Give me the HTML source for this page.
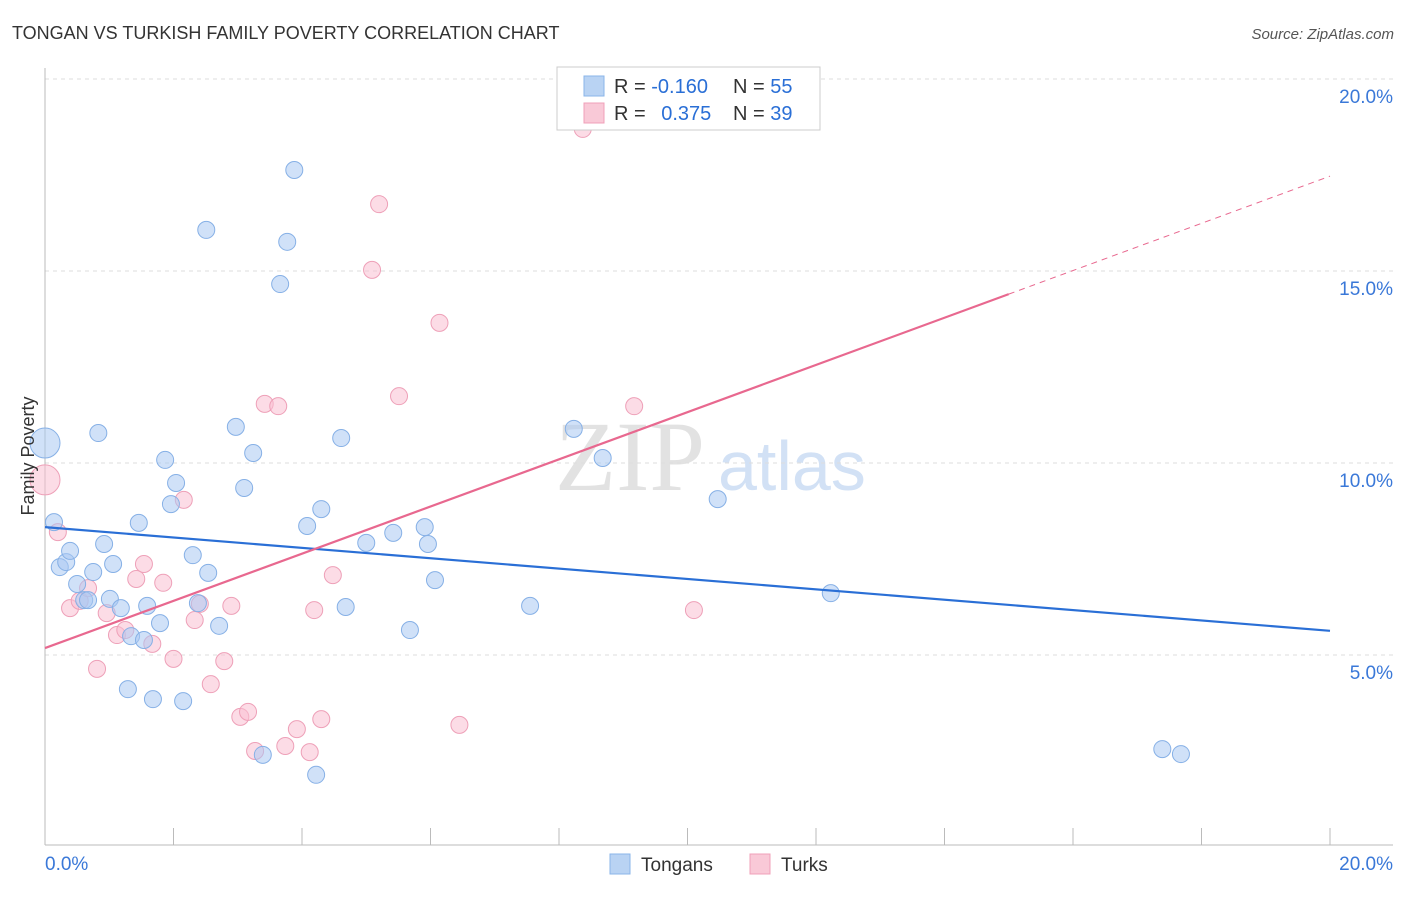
<!DOCTYPE html>
<html><head><meta charset="utf-8"><style>
body{margin:0;background:#fff;font-family:"Liberation Sans",sans-serif;}
svg text{font-family:"Liberation Sans",sans-serif;}
</style></head><body>
<svg id="chart" width="1406" height="892">
<text x="12" y="39" font-size="18" fill="#333">TONGAN VS TURKISH FAMILY POVERTY CORRELATION CHART</text>
<text x="1394" y="39" font-size="15" fill="#555" font-style="italic" text-anchor="end">Source: ZipAtlas.com</text>
<text x="555" y="490" font-size="100" fill="#e2e2e2" style="font-family:'Liberation Serif',serif">ZIP</text>
<text x="718" y="490" font-size="70" fill="#d2e1f5">atlas</text>
<g id="grid"></g>
<g id="axes"></g>
<g id="marks"></g>
<text x="34" y="456" font-size="18" fill="#333" transform="rotate(-90 34 456)" text-anchor="middle">Family Poverty</text>
<g>
<rect x="557" y="67" width="263" height="63" fill="#fff" stroke="#ccc"/>
<rect x="584" y="76" width="20" height="20" fill="#b9d3f3" stroke="#8ab4e8"/>
<rect x="584" y="103" width="20" height="20" fill="#f9c9d7" stroke="#f0a0b8"/>
<text x="614" y="93" font-size="20" fill="#333">R = <tspan fill="#2a6fd6">-0.160</tspan></text>
<text x="733" y="93" font-size="20" fill="#333">N = <tspan fill="#2a6fd6">55</tspan></text>
<text x="614" y="120" font-size="20" fill="#333">R = <tspan fill="#2a6fd6" dx="10">0.375</tspan></text>
<text x="733" y="120" font-size="20" fill="#333">N = <tspan fill="#2a6fd6">39</tspan></text>
</g>
<g>
<rect x="610" y="854" width="20" height="20" fill="#b9d3f3" stroke="#8ab4e8"/>
<text x="641" y="871" font-size="19" fill="#333">Tongans</text>
<rect x="750" y="854" width="20" height="20" fill="#f9c9d7" stroke="#f0a0b8"/>
<text x="781" y="871" font-size="19" fill="#333">Turks</text>
</g>
</svg>
<script>
const yTicks=[5,10,15,20];
const yTickLabels=["5.0%","10.0%","15.0%","20.0%"];
const xTicks=[0,2,4,6,8,10,12,14,16,18,20];
const xTickLabels=["0.0%","20.0%"];
const tonganX=[0.00,0.14,0.23,0.33,0.39,0.50,0.61,0.67,0.75,0.83,0.92,1.01,1.06,1.18,1.29,1.34,1.46,1.54,1.59,1.68,1.79,1.87,1.96,2.04,2.15,2.30,2.38,2.51,2.54,2.71,2.97,3.10,3.24,3.39,3.66,3.77,3.88,4.08,4.22,4.30,4.61,4.68,5.00,5.42,5.68,5.91,5.96,6.07,7.55,8.23,8.68,10.47,12.23,17.39,17.68];
const tonganY=[10.52,8.46,7.29,7.42,7.71,6.85,6.43,6.43,7.16,10.78,7.89,6.46,7.37,6.22,4.11,5.49,8.44,5.39,6.28,3.85,5.83,10.08,8.93,9.48,3.80,7.60,6.35,16.07,7.14,5.76,10.94,9.35,10.26,2.40,14.66,15.76,17.63,8.36,1.88,8.80,10.65,6.25,7.92,8.18,5.65,8.33,7.89,6.95,6.28,10.89,10.13,9.06,6.61,2.55,2.42];
const turkX=[0.00,0.20,0.39,0.54,0.67,0.81,0.96,1.12,1.25,1.42,1.54,1.67,1.84,2.00,2.16,2.33,2.41,2.58,2.79,2.90,3.04,3.16,3.27,3.42,3.63,3.74,3.92,4.12,4.19,4.30,4.48,5.09,5.20,5.51,6.14,6.45,8.37,9.17,10.10];
const turkY=[9.56,8.20,6.22,6.41,6.74,4.64,6.09,5.52,5.65,6.98,7.37,5.29,6.88,4.90,9.04,5.91,6.33,4.24,4.84,6.28,3.39,3.52,2.50,11.54,11.48,2.63,3.07,2.47,6.17,3.33,7.08,15.03,16.74,11.74,13.65,3.18,18.70,11.48,6.17];
const tonganTrend=[8.33,5.63];
const turkTrend=[5.18,17.47];
const turkSolidEnd=15.0;
const NS="http://www.w3.org/2000/svg";
const sx=v=>45+v/20*1285;
const sy=v=>847-v/20*768;
function mk(tag,attrs,parent){const e=document.createElementNS(NS,tag);for(const k in attrs)e.setAttribute(k,attrs[k]);parent.appendChild(e);return e;}
const grid=document.getElementById('grid'),axes=document.getElementById('axes'),marks=document.getElementById('marks');
yTicks.forEach((t,i)=>{
 const l=mk('line',{x1:45,x2:1393,y1:sy(t),y2:sy(t),stroke:'#ddd','stroke-dasharray':'4,4'},grid);
 
 
 const tx=mk('text',{x:1393,y:sy(t)+24,'font-size':19,fill:'#3a78d8','text-anchor':'end'},axes);
 tx.textContent=yTickLabels[i];
 
 
});
const xa=mk('line',{x1:45,x2:1393,y1:845,y2:845,stroke:'#bbb'},axes);


const ya=mk('line',{x1:45,x2:45,y1:68,y2:845,stroke:'#bbb'},axes);


xTicks.forEach(t=>{
 const l=mk('line',{x1:sx(t),x2:sx(t),y1:828,y2:845,stroke:'#bbb'},axes);
 
 
});
const xl0=mk('text',{x:45,y:870,'font-size':19,fill:'#3a78d8'},axes);
xl0.textContent=xTickLabels[0];


const xl1=mk('text',{x:1393,y:870,'font-size':19,fill:'#3a78d8','text-anchor':'end'},axes);
xl1.textContent=xTickLabels[1];


function dots(X,Y,fill,stroke,name){
 X.forEach((x,i)=>{
  const r=(x===0)?15:8.5;
  const c=mk('circle',{cx:sx(x),cy:sy(Y[i]),r:r,fill:fill,'fill-opacity':0.55,stroke:stroke,'stroke-width':1},marks);
  
  
 });
}
dots(turkX,turkY,'#f9c0d2','#eea0b8','turk-point');
dots(tonganX,tonganY,'#aac9f2','#86b0e6','tongan-point');
const bl=mk('line',{x1:sx(0),y1:sy(tonganTrend[0]),x2:sx(20),y2:sy(tonganTrend[1]),stroke:'#2a6fd6','stroke-width':2.2},marks);


const slope=(turkTrend[1]-turkTrend[0])/20;
const pl=mk('line',{x1:sx(0),y1:sy(turkTrend[0]),x2:sx(turkSolidEnd),y2:sy(turkTrend[0]+slope*turkSolidEnd),stroke:'#e8688f','stroke-width':2.2},marks);


const pd=mk('line',{x1:sx(turkSolidEnd),y1:sy(turkTrend[0]+slope*turkSolidEnd),x2:sx(20),y2:sy(turkTrend[1]),stroke:'#e8688f','stroke-width':1,'stroke-dasharray':'6,5'},marks);


</script>
</body></html>
